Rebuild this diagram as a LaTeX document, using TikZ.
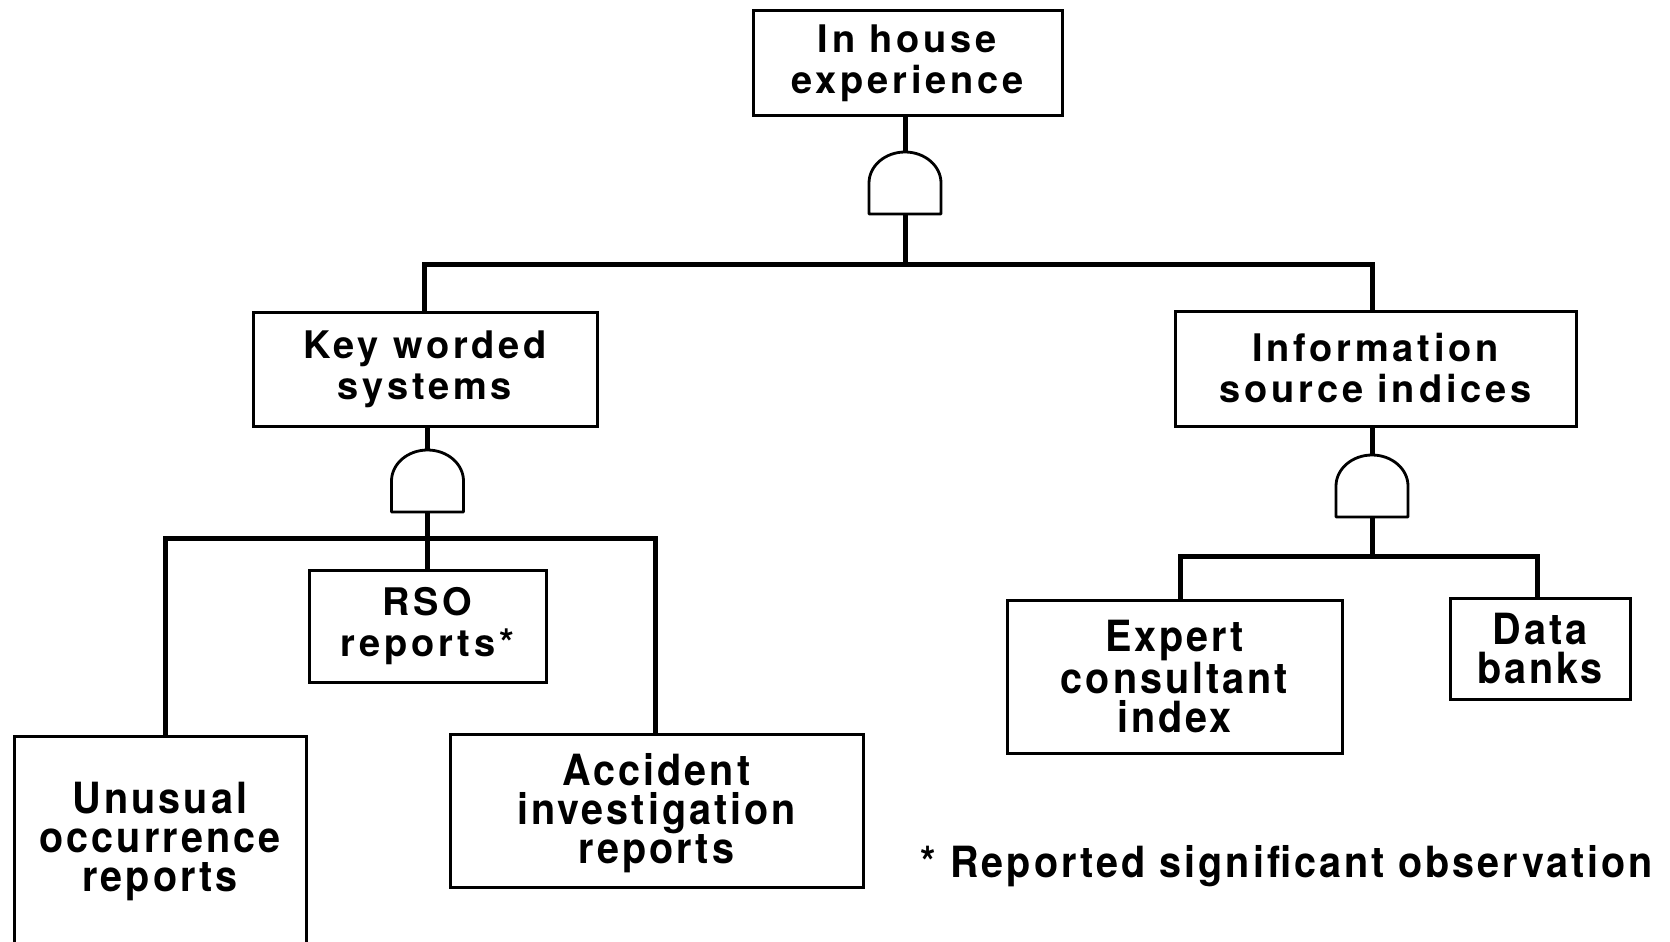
\documentclass[tikz,border=0pt]{standalone}
\usepackage{fontspec}
\setmainfont{TeX Gyre Heros}
\newfontfamily\upperfont{TeX Gyre Heros}[LetterSpace=10]
\newfontfamily\lowerfont{TeX Gyre Heros}[FakeStretch=0.92,LetterSpace=7]
\begin{document}
\begin{tikzpicture}[x=1pt,y=-1pt,
  wire/.style={line width=5pt,line join=miter},
  box/.style={draw,line width=3pt,inner sep=0pt,align=center},
  uptext/.style={font=\upperfont\bfseries\fontsize{38}{41}\selectfont},
  lowtext/.style={font=\lowerfont\bfseries\fontsize{43}{39}\selectfont},
  andgate/.pic={
    \draw[line width=2.8pt,fill=white,line join=round]
      (-36,31) -- (-36,0)
      .. controls (-36,-17) and (-20,-31) .. (0,-31)
      .. controls (20,-31) and (36,-17) .. (36,0)
      -- (36,31) -- cycle;
    \coordinate (-top) at (0,-31);
    \coordinate (-bot) at (0,31);
  }]
\useasboundingbox (0,0) rectangle (1670,942);

% event boxes
\node[box,uptext,minimum width=309pt,minimum height=104pt] (top) at (907.5,63) {In house\\experience};
\node[box,uptext,minimum width=344pt,minimum height=114pt] (kw) at (425,369) {Key worded\\systems};
\node[box,uptext,minimum width=401pt,minimum height=115pt] (isi) at (1375.5,368.5) {Information\\source indices};
\node[box,uptext,minimum width=237pt,minimum height=112pt] (rso) at (427.5,626) {RSO\\reports*};
\node[box,anchor=north,minimum width=292pt,minimum height=260pt] (unu) at (160,735) {};
\node[lowtext,align=center] (unutext) at (160,842) {Unusual\\occurrence\\reports};
\node[box,minimum width=413pt,minimum height=153pt] (acc) at (656.5,810.5) {};
\node[lowtext,align=center] (acctext) at (656.5,813) {Accident\\investigation\\reports};
\node[box,lowtext,minimum width=335pt,minimum height=153pt] (exp) at (1174.5,676.5) {Expert\\consultant\\index};
\node[box,lowtext,minimum width=180pt,minimum height=101pt] (dat) at (1540,648.5) {Data\\banks};
\node[lowtext] (note) at (1287,866) {* Reported significant observation};

% AND gates
\pic (g1) at (905,183) {andgate};
\pic (g2) at (427.5,481) {andgate};
\pic (g3) at (1372,486) {andgate};

% top level
\draw[wire] (g1-top |- top.south) -- (g1-top);
\coordinate (j1) at (g1-bot |- 0,264);
\draw[wire] (g1-bot) -- (j1);
\draw[wire] ([xshift=-1pt]kw.north) |- (j1) -| (g3-top |- isi.north);

% key worded systems
\draw[wire] (g2-top |- kw.south) -- (g2-top);
\coordinate (j2) at (g2-bot |- 0,538);
\draw[wire] (g2-bot) -- (j2);
\draw[wire] (j2) -- (rso.north);
\draw[wire] ([xshift=5pt]unu.north) |- (j2) -| ([xshift=-1.5pt]acc.north);

% information source indices
\draw[wire] (g3-top |- isi.south) -- (g3-top);
\coordinate (j3) at (g3-bot |- 0,556);
\draw[wire] (g3-bot) -- (j3);
\draw[wire] ([xshift=5.5pt]exp.north) |- (j3) -| ([xshift=-3pt]dat.north);
\end{tikzpicture}
\end{document}
